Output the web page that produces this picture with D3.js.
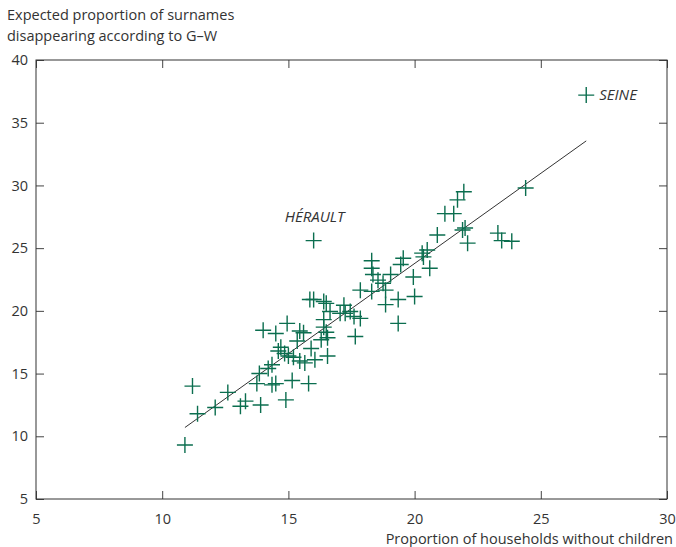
<!DOCTYPE html>
<html>
<head>
<meta charset="utf-8">
<script src="https://cdn.jsdelivr.net/npm/d3@7"></script>
<style>
  body { margin: 0; background: #fff; }
  svg text { font-family: "Open Sans", "Noto Sans", sans-serif; fill: #333; }
</style>
</head>
<body>
<div id="chart"></div>
<script>
// proportion of households without children (x) / expected proportion of surnames disappearing (y)
const households = [
  10.9, 11.2, 11.4, 12.1, 12.6, 13.1, 13.3, 13.9, 14.9, 13.85,
  13.75, 14.35, 14.5, 15.15, 15.8, 14.2, 14.35, 14.0, 14.5, 14.95,
  14.6, 14.7, 14.85, 15.0, 15.2, 15.45, 15.65, 16.05, 16.55, 15.35,
  15.45, 15.6, 15.9, 16.4, 16.5, 16.55, 16.3, 15.85, 16.0, 16.4,
  16.5, 17.2, 17.25, 17.05, 17.45, 17.85, 17.65, 16.65, 16.4, 17.6,
  18.3, 18.3, 18.35, 18.55, 18.75, 18.3, 17.85, 18.85, 19.05, 19.55,
  19.45, 19.35, 19.95, 20.0, 19.35, 20.3, 20.5, 20.35, 20.6, 20.9,
  21.9, 22.0, 22.1, 23.3, 23.45, 23.85, 21.2, 21.55, 21.7, 21.95,
  24.4, 18.85, 16.0, 26.8
];
const expected = [
  9.3, 14.0, 11.8, 12.3, 13.5, 12.4, 12.8, 12.5, 12.9, 15.0,
  14.2, 14.1, 14.2, 14.45, 14.2, 15.4, 15.7, 18.45, 18.2, 19.0,
  16.8, 17.1, 16.6, 16.4, 16.3, 16.0, 15.85, 16.1, 16.4, 17.6,
  18.4, 18.25, 17.0, 18.7, 18.3, 17.85, 17.7, 20.9, 20.9, 20.75,
  20.6, 20.45, 19.8, 19.8, 19.95, 19.4, 17.95, 19.95, 19.3, 19.55,
  24.0, 23.4, 22.9, 22.45, 22.2, 21.55, 21.65, 20.5, 22.9, 24.2,
  23.7, 20.9, 22.7, 21.15, 19.0, 24.6, 24.85, 24.3, 23.4, 26.05,
  26.45, 26.6, 25.4, 26.2, 25.6, 25.55, 27.75, 27.75, 28.85, 29.5,
  29.8, 21.65, 25.6, 37.2
];

// named outliers
const labelNames = ["HÉRAULT", "SEINE"];
const labelX = [16.0, 26.8];
const labelY = [25.6, 37.2];

// regression line end points
const fitX = [10.9, 26.8];
const fitY = [10.7, 33.55];

const xTicks = [5, 10, 15, 20, 25, 30];
const yTicks = [5, 10, 15, 20, 25, 30, 35, 40];

const width = 676;
const height = 547;
const mLeft = 36, mRight = 667, mTop = 60, mBottom = 499;

const svg = d3.select("#chart")
  .append("svg")
  .attr("width", width)
  .attr("height", height);

const x = d3.scaleLinear().domain([5, 30]).range([mLeft, mRight]);
const y = d3.scaleLinear().domain([5, 40]).range([mBottom, mTop]);

// axes, ticks pointing inside the frame
const xAxis = d3.axisBottom(x).tickValues(xTicks).tickSizeInner(-8).tickSizeOuter(0).tickPadding(15);
const yAxis = d3.axisLeft(y).tickValues(yTicks).tickSizeInner(-8).tickSizeOuter(0).tickPadding(8);

svg.append("g").attr("transform", `translate(0,${mBottom})`).call(xAxis);
svg.append("g").attr("transform", `translate(${mLeft},0)`).call(yAxis);

svg.append("g").attr("transform", `translate(0,${mTop})`)
  .call(d3.axisTop(x).tickValues(xTicks).tickSizeInner(-8).tickSizeOuter(0).tickFormat(""));
svg.append("g").attr("transform", `translate(${mRight},0)`)
  .call(d3.axisRight(y).tickValues(yTicks).tickSizeInner(-8).tickSizeOuter(0).tickFormat(""));

svg.selectAll(".domain").remove();
svg.selectAll(".tick line").attr("stroke", "#444");
svg.selectAll(".tick text").attr("font-size", 14.5).attr("fill", "#333")
  .style("font-family", '"Open Sans", sans-serif');

// frame
svg.append("rect")
  .attr("x", mLeft).attr("y", mTop)
  .attr("width", mRight - mLeft).attr("height", mBottom - mTop)
  .attr("fill", "none").attr("stroke", "#333").attr("stroke-width", 1);

// titles
svg.append("text")
  .attr("x", 7).attr("y", 20)
  .attr("font-size", 14.5)
  .text("Expected proportion of surnames");
svg.append("text")
  .attr("x", 7).attr("y", 41)
  .attr("font-size", 14.5)
  .text("disappearing according to G\u2013W");
svg.append("text")
  .attr("x", 673).attr("y", 544)
  .attr("text-anchor", "end")
  .attr("font-size", 14.5)
  .text("Proportion of households without children");

// regression line
svg.append("line")
  .attr("x1", x(fitX[0])).attr("y1", y(fitY[0]))
  .attr("x2", x(fitX[1])).attr("y2", y(fitY[1]))
  .attr("stroke", "#333").attr("stroke-width", 1);

// crosses
const arm = 8;
const pts = households.map((h, i) => ({ h, e: expected[i] }));
const crosses = svg.append("g")
  .attr("stroke", "#0b6e4f")
  .attr("stroke-width", 1.4)
  .attr("fill", "none");

crosses.selectAll("path")
  .data(pts)
  .enter()
  .append("path")
  .attr("d", d => {
    const cx = x(d.h), cy = y(d.e);
    return `M${cx - arm},${cy}H${cx + arm}M${cx},${cy - arm}V${cy + arm}`;
  });

// outlier labels
svg.append("text")
  .attr("x", x(labelX[0]) + 1)
  .attr("y", y(labelY[0]) - 19)
  .attr("text-anchor", "middle")
  .attr("font-size", 15)
  .attr("font-style", "italic")
  .text(labelNames[0]);

svg.append("text")
  .attr("x", x(labelX[1]) + 13)
  .attr("y", y(labelY[1]) + 5)
  .attr("font-size", 15)
  .attr("font-style", "italic")
  .text(labelNames[1]);
</script>
</body>
</html>
